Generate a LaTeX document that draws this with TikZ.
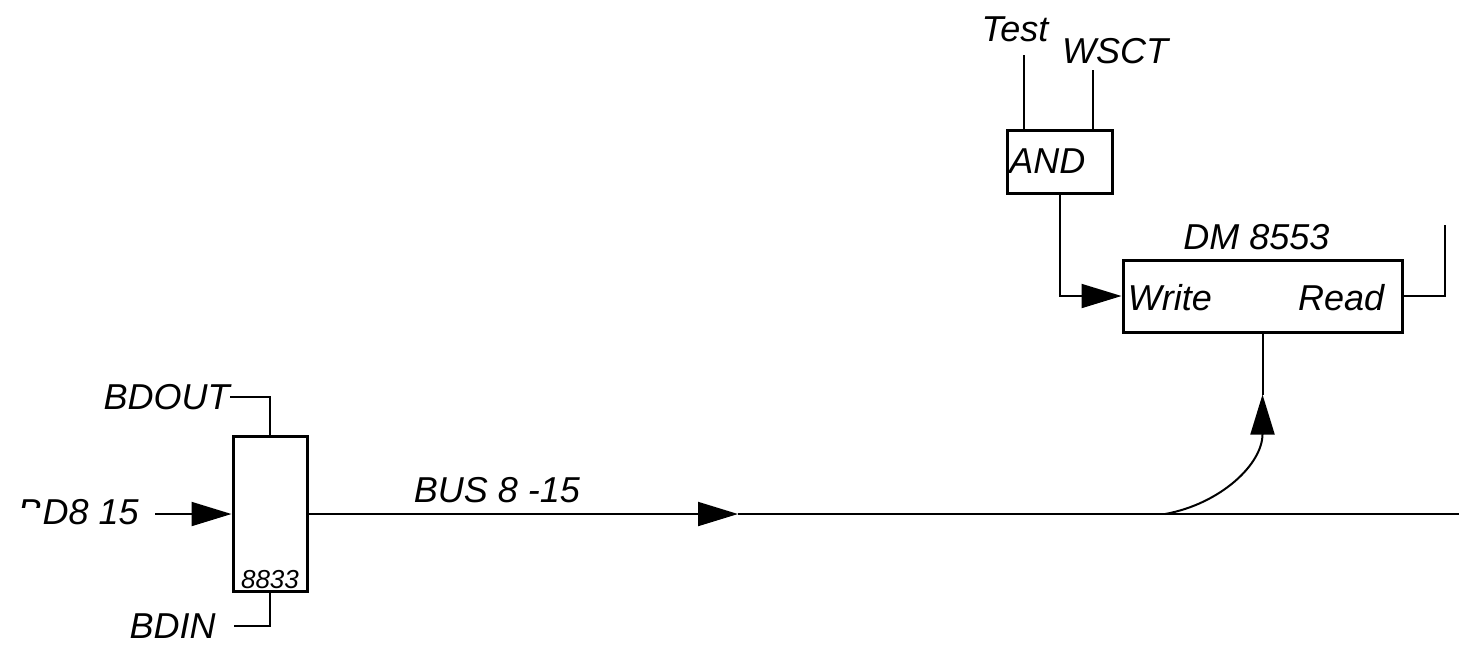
\documentclass[tikz,border=0pt]{standalone}
\usepackage{fontspec}
\setmainfont{Liberation Sans}
\usetikzlibrary{arrows.meta, positioning}

\begin{document}
\begin{tikzpicture}[
		x=0.5pt, y=-0.5pt,
		every node/.style={font=\fontsize{18}{21}\selectfont\itshape, inner sep=0pt},
		chip/.style={draw, line width=1.5pt, inner sep=0pt},
		sig/.style={line width=1pt},
		arrow/.style={sig, -{Triangle[length=20pt, width=12pt]}}
	]
		\useasboundingbox (0,0) rectangle (1459,645);

		% bus buffer
		\node[chip, minimum width=37pt, minimum height=77.5pt] (buf) at (270,514) {};
		\node[font=\fontsize{13}{15}\selectfont\itshape, anchor=south, inner sep=2pt] (bufnum) at (buf.south) {8833};
		\node[anchor=east] (bdout) at (230,397) {BDOUT};
		\node[anchor=east] (bdin) at (216,626) {BDIN};
		\node[anchor=east] (bdlbl) at (139,512) {D8 15};
		\begin{scope}
			\clip (0,495) rectangle (40,507);
			\node[anchor=base east] (bdcut) at (bdlbl.base west) {B};
		\end{scope}
		\coordinate (bdsrc) at (155,514);

		\draw[arrow] (bdsrc) -- (buf.west);
		\draw[sig] (bdout.east) -| (buf.north);
		\draw[sig] ([xshift=9pt]bdin.east) -| (buf.south);

		% bus
		\coordinate (busarr) at (738,514);
		\coordinate (busend) at (1459,514);
		\node (buslbl) at (497,490) {BUS 8 -15};
		\draw[arrow] (buf.east) -- (busarr);
		\draw[sig] (busarr) -- (busend);

		% memory
		\node[chip, minimum width=139.5pt, minimum height=36pt] (dm) at (1262.5,296) {};
		\node[anchor=west] (wr) at ([xshift=3pt, yshift=-1pt]dm.west) {Write};
		\node[anchor=east] (rd) at ([xshift=-9.5pt, yshift=-1pt]dm.east) {Read};
		\node[above=4pt of dm, xshift=-3pt] (dmlbl) {DM 8553};

		% write enable
		\node[chip, minimum width=52.5pt, minimum height=31.5pt] (and) at (1060,161.5) {};
		\node[anchor=west] (andlbl) at ([xshift=1.5pt]and.west) {AND};
		\node (test) at (1015,29) {Test};
		\node (wsct) at (1115,51) {WSCT};
		\coordinate (tin) at (1024,55);
		\coordinate (win) at (1093,70);
		\draw[sig] (tin) -- (tin |- and.north);
		\draw[sig] (win) -- (win |- and.north);
		\draw[arrow] (and.south) |- (dm.west);

		% read out
		\coordinate (rdout) at (1445,225);
		\draw[sig] (dm.east) -| (rdout);

		% tap from bus
		\coordinate (tap) at (1165,514);
		\coordinate (tip) at ([yshift=-30.5pt]dm.south);
		\draw[arrow] (tap) .. controls +(55,-10) and +(0,70) .. (tip);
		\draw[sig] (tip) -- (dm.south);
	\end{tikzpicture}
\end{document}
